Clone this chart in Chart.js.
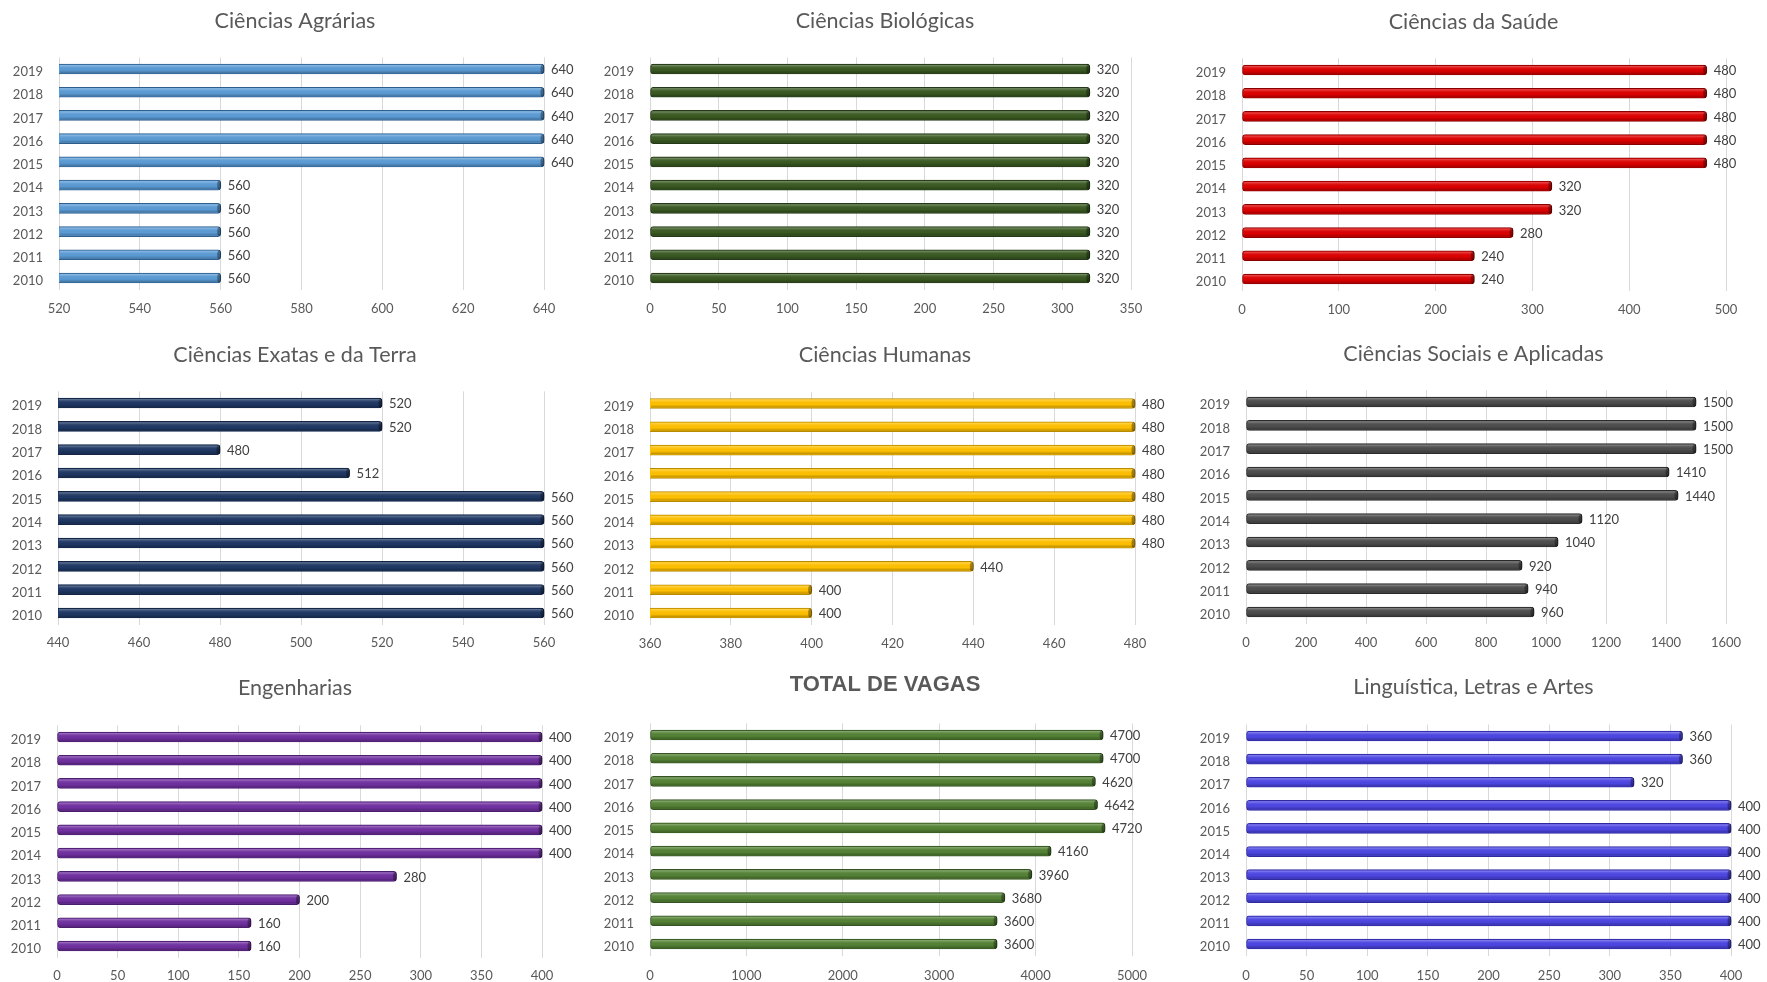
<!DOCTYPE html>
<html>
<head>
<meta charset="utf-8">
<script src="https://cdn.jsdelivr.net/npm/chart.js@4.4.0/dist/chart.umd.min.js"></script>
<style>
  body { margin: 0; background: #fff; }
  .panel { position: absolute; }
</style>
</head>
<body>
<div id="board"></div>
<script>
// years, top to bottom as in the picture
const years = ['2019', '2018', '2017', '2016', '2015', '2014', '2013', '2012', '2011', '2010']

const agrarias    = [640, 640, 640, 640, 640, 560, 560, 560, 560, 560]
const biologicas  = [320, 320, 320, 320, 320, 320, 320, 320, 320, 320]
const saude       = [480, 480, 480, 480, 480, 320, 320, 280, 240, 240]
const exatas      = [520, 520, 480, 512, 560, 560, 560, 560, 560, 560]
const humanas     = [480, 480, 480, 480, 480, 480, 480, 440, 400, 400]
const sociais     = [1500, 1500, 1500, 1410, 1440, 1120, 1040, 920, 940, 960]
const engenharias = [400, 400, 400, 400, 400, 400, 280, 200, 160, 160]
const total       = [4700, 4700, 4620, 4642, 4720, 4160, 3960, 3680, 3600, 3600]
const linguistica = [360, 360, 320, 400, 400, 400, 400, 400, 400, 400]

// box = [x, y, w, h]; L/R = plot left/right; first/last = row centres
const panels = [
  { title: 'Ciências Agrárias', data: agrarias, color: '#5b9bd5', edge: '#2e5e8e', min: 520, max: 640, step: 20,
    box: [0, 0, 590, 330], L: 59, R: 544, first: 69, last: 278, titleY: 21, tickY: 308 },
  { title: 'Ciências Biológicas', data: biologicas, color: '#3a5a22', edge: '#24391a', min: 0, max: 350, step: 50,
    box: [590, 0, 590, 330], L: 650, R: 1131, first: 69, last: 278, titleY: 21, tickY: 308 },
  { title: 'Ciências da Saúde', data: saude, color: '#dd0000', edge: '#8a0000', min: 0, max: 500, step: 100,
    box: [1180, 0, 587, 330], L: 1242, R: 1726, first: 70, last: 279, titleY: 22, tickY: 309 },
  { title: 'Ciências Exatas e da Terra', data: exatas, color: '#1f3864', edge: '#132445', min: 440, max: 560, step: 20,
    box: [0, 330, 590, 330], L: 58, R: 544, first: 403, last: 613, titleY: 355, tickY: 642 },
  { title: 'Ciências Humanas', data: humanas, color: '#ffc000', edge: '#b88a00', min: 360, max: 480, step: 20,
    box: [590, 330, 590, 330], L: 650, R: 1135, first: 403.5, last: 613, titleY: 355, tickY: 643 },
  { title: 'Ciências Sociais e Aplicadas', data: sociais, color: '#4d4d4d', edge: '#2a2a2a', min: 0, max: 1600, step: 200,
    box: [1180, 330, 587, 330], L: 1246, R: 1726, first: 402, last: 612, titleY: 354, tickY: 642 },
  { title: 'Engenharias', data: engenharias, color: '#7030a0', edge: '#4a1d6e', min: 0, max: 400, step: 50,
    box: [0, 660, 590, 322], L: 57, R: 542, first: 737, last: 946, titleY: 688, tickY: 975 },
  { title: 'TOTAL DE VAGAS', data: total, color: '#548235', edge: '#355322', min: 0, max: 5000, step: 1000,
    box: [590, 660, 590, 322], L: 650, R: 1132, first: 735, last: 944, titleY: 685, tickY: 975, bold: true },
  { title: 'Linguística, Letras e Artes', data: linguistica, color: '#4d46e3', edge: '#2f2a9e', min: 0, max: 400, step: 50,
    box: [1180, 660, 587, 322], L: 1246, R: 1731, first: 736, last: 944, titleY: 687, tickY: 975 }
]

Chart.defaults.font.family = 'Lato'
Chart.defaults.font.size = 13
Chart.defaults.color = '#595959'
Chart.defaults.animation = false

// fake 3d look on top of the flat bars
const shade = {
  id: 'shade',
  afterDatasetsDraw(chart) {
    const ctx = chart.ctx
    const area = chart.chartArea
    chart.getDatasetMeta(0).data.forEach(bar => {
      const p = bar.getProps(['x', 'y', 'base', 'height'], true)
      const left = Math.max(p.base, area.left) + 1
      const top = p.y - p.height / 2
      const g = ctx.createLinearGradient(0, top, 0, top + p.height)
      g.addColorStop(0, 'rgba(255,255,255,0.45)')
      g.addColorStop(0.3, 'rgba(255,255,255,0.08)')
      g.addColorStop(0.6, 'rgba(0,0,0,0)')
      g.addColorStop(1, 'rgba(0,0,0,0.35)')
      ctx.save()
      ctx.fillStyle = g
      ctx.fillRect(left, top + 1, p.x - left - 1, p.height - 2)
      ctx.fillStyle = 'rgba(0,0,0,0.35)'
      ctx.beginPath()
      ctx.ellipse(p.x - 1.5, p.y, 2, p.height / 2 - 0.5, 0, 0, Math.PI * 2)
      ctx.fill()
      ctx.restore()
    })
  }
}

const valueLabels = {
  id: 'valueLabels',
  afterDatasetsDraw(chart) {
    const ctx = chart.ctx
    const values = chart.data.datasets[0].data
    ctx.save()
    ctx.font = '13px Lato'
    ctx.fillStyle = '#404040'
    ctx.textAlign = 'left'
    ctx.textBaseline = 'middle'
    chart.getDatasetMeta(0).data.forEach((bar, i) => {
      ctx.fillText(values[i], bar.x + 7, bar.y + 1)
    })
    ctx.restore()
  }
}

const board = document.getElementById('board')

panels.forEach((p, n) => {
  const [x, y, w, h] = p.box
  const band = (p.last - p.first) / 9
  const T = p.first - band / 2
  const B = p.last + band / 2
  const fs = p.bold ? 22 : 21.5
  const padTop = p.titleY - y - fs * 0.6
  const padBottom = T - p.titleY - fs * 0.6

  const div = document.createElement('div')
  div.className = 'panel'
  div.style.left = x + 'px'
  div.style.top = y + 'px'
  div.style.width = w + 'px'
  div.style.height = h + 'px'
  const canvas = document.createElement('canvas')
  canvas.id = 'CANVAS_' + n
  div.appendChild(canvas)
  board.appendChild(div)

  new Chart(canvas, {
    type: 'bar',
    data: {
      labels: years,
      datasets: [{
        data: p.data,
        backgroundColor: p.color,
        borderColor: p.edge,
        borderWidth: 1,
        borderRadius: 3,
        borderSkipped: false,
        barThickness: 10,
        clip: { left: 0, right: false, top: false, bottom: false }
      }]
    },
    options: {
      indexAxis: 'y',
      responsive: true,
      maintainAspectRatio: false,
      layout: { padding: 0 },
      plugins: {
        legend: { display: false },
        tooltip: { enabled: false },
        title: {
          display: true,
          text: p.title,
          color: '#595959',
          font: p.bold
            ? { family: 'Liberation Sans', size: fs, weight: 'bold' }
            : { family: 'Lato', size: fs, weight: 'normal' },
          padding: { top: padTop, bottom: padBottom }
        }
      },
      scales: {
        x: {
          min: p.min,
          max: p.max,
          ticks: { stepSize: p.step, padding: p.tickY - B - 7, color: '#595959', callback: v => String(v) },
          grid: { color: '#d9d9d9', drawTicks: false },
          border: { display: false },
          afterFit: scale => { scale.height = y + h - B }
        },
        y: {
          ticks: { padding: 16, labelOffset: 3, color: '#595959' },
          grid: { display: false, drawTicks: false },
          border: { display: false },
          afterFit: scale => { scale.width = p.L - x }
        },
        // empty right-hand axis, only to leave room for the value labels
        room: {
          type: 'linear',
          position: 'right',
          ticks: { display: false },
          grid: { display: false, drawTicks: false },
          border: { display: false },
          afterFit: scale => { scale.width = x + w - p.R }
        }
      }
    },
    plugins: [shade, valueLabels]
  })
})
</script>
</body>
</html>
